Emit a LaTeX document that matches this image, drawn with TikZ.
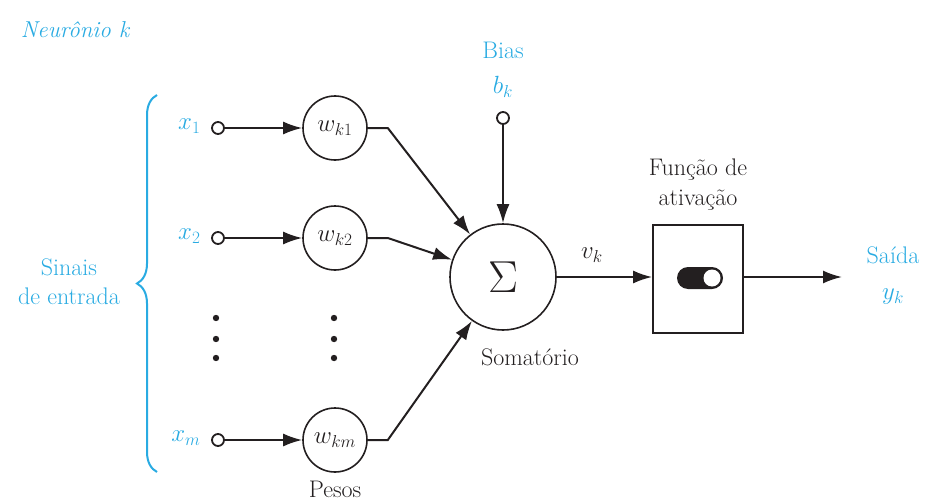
\documentclass[tikz,border=0pt]{standalone}
\usetikzlibrary{arrows.meta,decorations.pathreplacing}
\definecolor{sig}{RGB}{41,171,226}
\definecolor{ink}{RGB}{35,31,32}
\begin{document}
\begin{tikzpicture}[x=1pt,y=-1pt,
  font=\fontsize{24}{29}\selectfont,
  every node/.style={text=ink},
  lab/.style={text=sig},
  wt/.style={circle,draw=ink,line width=1.6pt,minimum size=64pt,inner sep=0pt},
  port/.style={circle,draw=ink,line width=1.8pt,minimum size=12pt,inner sep=0pt,fill=white},
  arr/.style={draw=ink,line width=2pt,-{Latex[length=19pt,width=13pt]}},
  wire/.style={draw=ink,line width=2pt}]
\useasboundingbox (0,0) rectangle (925,503);

% title
\node[lab,font=\fontsize{23}{28}\selectfont\itshape] (title) at (75,30) {Neurônio k};

% inputs
\node[port] (p1) at (218,128) {};
\node[port] (p2) at (218,238) {};
\node[port] (pm) at (218,440) {};
\node[lab,anchor=east] (x1) at (204,126) {$x_1$};
\node[lab,anchor=east] (x2) at (204,236) {$x_2$};
\node[lab,anchor=east] (xm) at (204,438) {$x_m$};

% weights
\node[wt] (w1) at (335,128) {$w_{k1}$};
\node[wt] (w2) at (335,238) {$w_{k2}$};
\node[wt] (wm) at (335,440) {$w_{km}$};
\node (pesos) at (335,489) {Pesos};

% vertical ellipses
\foreach \yy in {318,339,358} {
  \fill[ink] (216,\yy) circle (3.2);
  \fill[ink] (334,\yy) circle (3.2);
}

% input brace and its label
\draw[sig,line width=2pt,decorate,decoration={brace,amplitude=20pt}] (157,472) -- (157,95);
\node[lab,align=center] (sinais) at (69,282) {Sinais\\de entrada};

% summing junction
\node[circle,draw=ink,line width=1.6pt,minimum size=106pt,inner sep=0pt] (sum) at (503,277)
  {\scalebox{1.8}{$\Sigma$}};
\node (somat) at (530,357) {Somatório};

% bias
\node[lab] (bias) at (503,50) {Bias};
\node[lab] (bk) at (503,87) {$b_k$};
\node[port] (pb) at (503,118) {};

% activation
\node[draw=ink,line width=1.8pt,minimum width=90pt,minimum height=108pt,inner sep=0pt] (act) at (698,279) {};
\node[align=center,font=\fontsize{24}{30}\selectfont] (actlab) at (698,185) {Função de\\ativação};
\fill[ink,rounded corners=11pt] (677,267) rectangle (723,289);
\fill[white] (712,278) circle (8.5);

% output
\coordinate (out) at (842,277);
\node[lab] (saida) at (893,255) {Saída};
\node[lab] (yk) at (893,297) {$y_k$};
\node (vk) at (592,255) {$v_k$};

% connectors
\draw[arr] (p1) -- (w1);
\draw[arr] (p2) -- (w2);
\draw[arr] (pm) -- (wm);
\draw[arr] (w1.east) -- ++(20,0) -- (sum);
\draw[arr] (w2.east) -- ++(20,0) -- (sum);
\draw[arr] (wm.east) -- ++(20,0) -- (sum);
\draw[arr] (pb) -- (sum);
\draw[arr] (sum.east) -- (act.west |- sum.east);
\draw[arr] (act.east |- sum.east) -- (out);
\end{tikzpicture}
\end{document}
